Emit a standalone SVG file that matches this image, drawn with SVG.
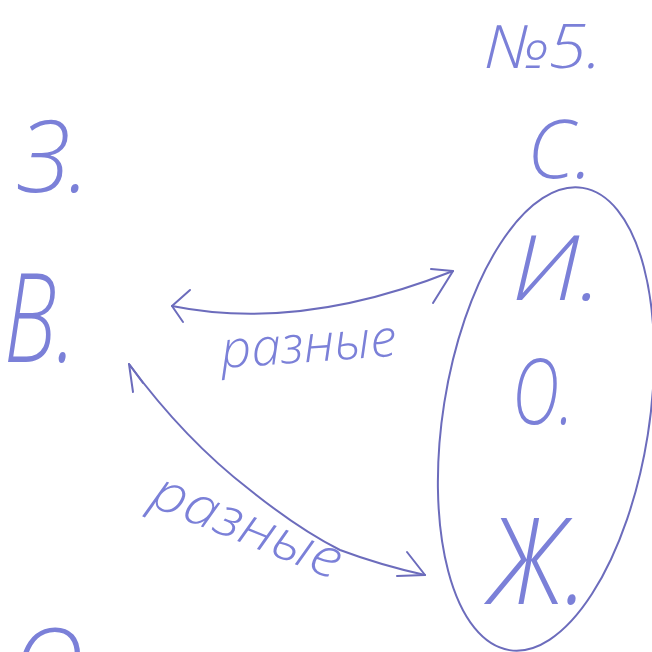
<svg xmlns="http://www.w3.org/2000/svg" width="652" height="652" viewBox="0 0 652 652">
<style>
.h{font-family:"Open Sans","DejaVu Sans",sans-serif;font-style:italic;font-weight:300;fill:#7b80d8;}
.ln{fill:none;stroke:#6c6cbc;stroke-width:2;stroke-linecap:round;stroke-linejoin:round;}
</style>
<rect width="652" height="652" fill="#ffffff"/>
<g id="title"><text class="h" x="484" y="68" font-size="60" textLength="118" lengthAdjust="spacingAndGlyphs">№5.</text></g>
<g id="node-Z"><text class="h" x="18" y="192" font-size="100" textLength="72" lengthAdjust="spacingAndGlyphs">З.</text></g>
<g id="node-V"><text class="h" x="4" y="362" font-size="124" textLength="72" lengthAdjust="spacingAndGlyphs">В.</text></g>
<g id="node-O-bottom"><text class="h" x="12" y="700" font-size="100">О</text></g>
<g id="group-right">
<ellipse class="ln" cx="546" cy="419" rx="103" ry="234" transform="rotate(9 546 419)"/>
<g id="node-S"><text class="h" x="527" y="178" font-size="82" textLength="66" lengthAdjust="spacingAndGlyphs">С.</text></g>
<g id="node-I"><text class="h" x="512" y="300" font-size="90" textLength="90" lengthAdjust="spacingAndGlyphs">И.</text></g>
<g id="node-O"><text class="h" x="512" y="424" font-size="90" textLength="62" lengthAdjust="spacingAndGlyphs">О.</text></g>
<g id="node-Zh"><text class="h" x="488" y="604" font-size="120" textLength="100" lengthAdjust="spacingAndGlyphs">Ж.</text></g>
</g>
<g id="connectors">
<path class="ln" d="M172 306 Q 300 332 453 271"/>
<path class="ln" d="M190 290 L172 306 L183 322"/>
<path class="ln" d="M431 269 L453 271 L433 303"/>
<path class="ln" d="M129 364 Q 185 440 250 490 Q 300 530 340 550 Q 380 565 425 575"/>
<path class="ln" d="M143 383 L129 364 L133 392"/>
<path class="ln" d="M407 552 L425 575 L397 576"/>
<text class="h" x="222" y="368" font-size="52" textLength="176" lengthAdjust="spacingAndGlyphs" transform="rotate(-4 222 368)">разные</text>
<text class="h" x="148" y="505" font-size="54" textLength="200" lengthAdjust="spacingAndGlyphs" transform="rotate(22 148 505)">разные</text>
</g>
</svg>
